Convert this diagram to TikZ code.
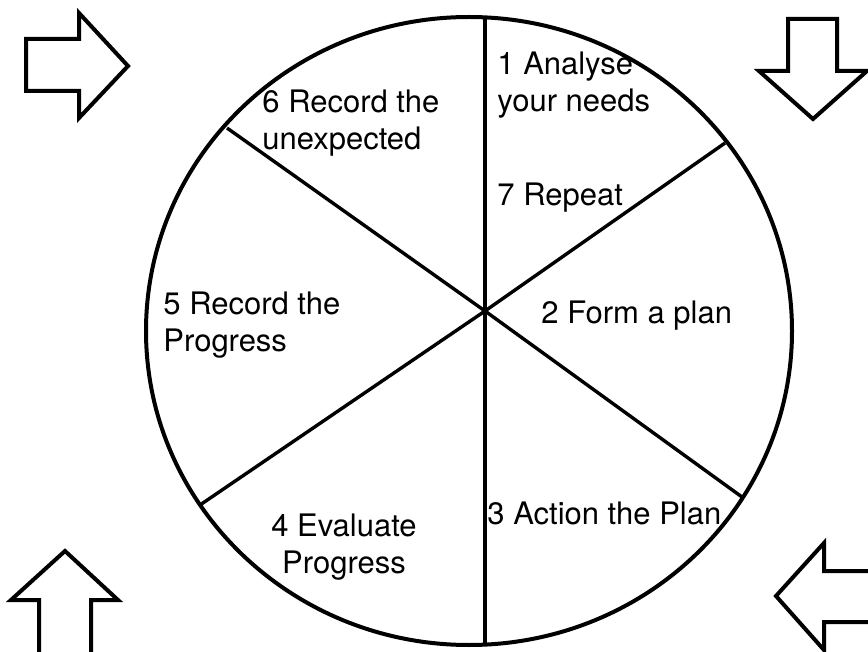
\documentclass[tikz,border=0pt]{standalone}
\usepackage{fontspec}
\setmainfont{TeX Gyre Heros}
\usetikzlibrary{positioning}

\tikzset{
  rim/.style={line width=2pt},
  spoke/.style={line width=1.7pt},
  blockarrow/.style={line width=2pt, line join=miter},
  stage/.style={font=\fontsize{15.5}{18.5}\selectfont, inner sep=0pt, anchor=base west, align=left},
}

\begin{document}
\begin{tikzpicture}[x=0.5pt,y=-0.5pt]
  \useasboundingbox (0,0) rectangle (868,652);

  % Wheel and its spokes
  \draw[rim] (469,331) ellipse [x radius=323, y radius=314];
  \coordinate (hub) at (485,311);
  \coordinate (top) at (485,17);
  \coordinate (bottom) at (485,645);
  \coordinate (upleft) at (227,128);
  \coordinate (downright) at (742,497);
  \coordinate (upright) at (725,143);
  \coordinate (downleft) at (200,505);
  \foreach \p in {top,bottom,upleft,downright,upright,downleft}
    \draw[spoke] (hub) -- (\p);

  % Stages (two-line labels sit on their last line)
  \node[stage] (analyse) at (497,112) {1 Analyse\\your needs};
  \node[stage] (repeat) at (497,206) {7 Repeat};
  \node[stage] (plan) at (541,324) {2 Form a plan};
  \node[stage] (action) at (487,524) {3 Action the Plan};
  \node[stage, align=center, anchor=base] (evaluate) at (344,573) {4 Evaluate\\Progress};
  \node[stage] (progress) at (163,352) {5 Record the\\Progress};
  \node[stage] (unexpected) at (262,150) {6 Record the\\unexpected};

  % Block arrows round the corners
  \draw[blockarrow] (26,39) -- (79,39) -- (79,13) -- (128,66) -- (79,118) -- (79,91) -- (26,91) -- cycle;
  \draw[blockarrow] (788,19) -- (837,19) -- (837,71) -- (867,71) -- (813,119) -- (759,71) -- (788,71) -- cycle;
  \draw[blockarrow] (39,652) -- (39,600) -- (11,600) -- (65,551) -- (118,600) -- (91,600) -- (91,652);
  \draw[blockarrow] (870,571) -- (824,571) -- (824,543) -- (776,596) -- (824,650) -- (824,622) -- (870,622);
\end{tikzpicture}
\end{document}
